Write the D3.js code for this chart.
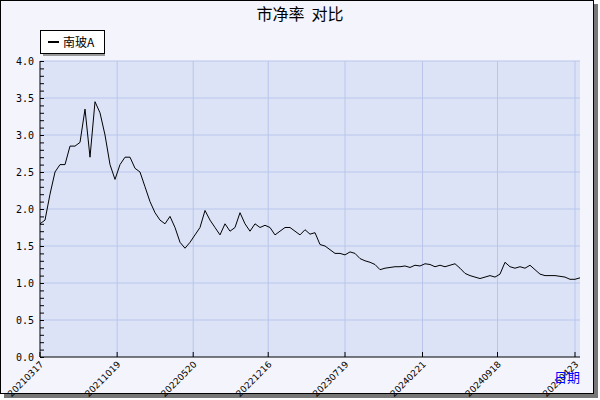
<!DOCTYPE html><html><head><meta charset="utf-8"><script src="https://cdn.jsdelivr.net/npm/d3@7/dist/d3.min.js"></script>
<style>body{margin:0;background:#fff}</style></head><body><svg id="c" width="600" height="400"></svg><script>
const startDate="2021-03-17", stepDays=14;
const values=[1.8,1.85,2.2,2.5,2.6,2.6,2.85,2.85,2.9,3.35,2.7,3.45,3.3,3.0,2.6,2.4,2.6,2.7,2.7,2.55,2.5,2.3,2.1,1.95,1.85,1.8,1.9,1.75,1.55,1.47,1.55,1.65,1.75,1.98,1.85,1.75,1.65,1.8,1.7,1.75,1.95,1.8,1.7,1.8,1.75,1.78,1.75,1.65,1.7,1.75,1.75,1.7,1.65,1.72,1.66,1.68,1.52,1.5,1.45,1.4,1.4,1.38,1.42,1.4,1.33,1.3,1.28,1.25,1.18,1.2,1.21,1.22,1.22,1.23,1.21,1.24,1.23,1.26,1.25,1.22,1.24,1.22,1.24,1.26,1.2,1.13,1.1,1.08,1.06,1.08,1.1,1.08,1.12,1.28,1.22,1.2,1.22,1.2,1.24,1.18,1.12,1.1,1.1,1.1,1.09,1.08,1.05,1.05,1.07];
const tickLabels=["20210317","20211019","20220520","20221216","20230719","20240221","20240918","20250423"];
const yTicks=[0,0.5,1,1.5,2,2.5,3,3.5,4];
const seriesName="南玻A", title="市净率  对比", xName="日期";
const parse=d3.timeParse("%Y%m%d");
const t0=d3.timeParse("%Y-%m-%d")(startDate);
const data=values.map((v,i)=>({d:d3.timeDay.offset(t0,i*stepDays),v}));
const svg=d3.select("#c");
const L=40,R=580,T=61,B=357;
svg.append("rect").attr("x",4).attr("y",4).attr("width",594).attr("height",394).attr("fill","#777");
svg.append("rect").attr("x",0.5).attr("y",0.5).attr("width",593).attr("height",393).attr("fill","#f3f4fc").attr("stroke","#000");
const x=d3.scaleTime().domain([data[0].d,data[data.length-1].d]).range([L,R]);
const y=d3.scaleLinear().domain([0,4]).range([B,T]);
svg.append("rect").attr("x",L).attr("y",T).attr("width",R-L).attr("height",B-T).attr("fill","#dce3f7");
const xt=tickLabels.map(parse);
svg.append("g").selectAll("line").data(xt.slice(1)).join("line").attr("x1",d=>x(d)).attr("x2",d=>x(d)).attr("y1",T).attr("y2",B).attr("stroke","#b9c6ea");
svg.append("g").selectAll("line").data(yTicks.slice(1)).join("line").attr("x1",L).attr("x2",R).attr("y1",d=>y(d)).attr("y2",d=>y(d)).attr("stroke","#b9c6ea");
svg.append("path").datum(data).attr("fill","none").attr("stroke","#000").attr("stroke-width",1)
 .attr("d",d3.line().x(d=>x(d.d)).y(d=>y(d.v)));
const ya=svg.append("g").attr("transform",`translate(${L},0)`).call(d3.axisRight(y).tickValues(d3.range(0,41).map(i=>i/10)).tickSize(4).tickFormat(""));
ya.select(".domain").remove();
svg.append("line").attr("x1",L).attr("x2",L).attr("y1",T).attr("y2",B).attr("stroke","#000");
svg.append("line").attr("x1",L).attr("x2",R).attr("y1",B).attr("y2",B).attr("stroke","#000");
svg.append("g").selectAll("text").data(yTicks).join("text").attr("x",L-6).attr("y",d=>y(d)+4).attr("text-anchor","end")
 .attr("font-family","DejaVu Sans Mono").attr("font-size",10).text(d=>d.toFixed(1));
svg.append("g").selectAll("line").data(xt).join("line").attr("x1",d=>x(d)).attr("x2",d=>x(d)).attr("y1",B).attr("y2",B-5).attr("stroke","#000");
svg.append("g").selectAll("text").data(xt).join("text").attr("text-anchor","end").attr("font-family","DejaVu Sans").attr("font-size",9)
 .attr("transform",d=>`translate(${x(d)+4},${B+8}) rotate(-45)`).text((d,i)=>tickLabels[i]);
svg.append("text").attr("x",300).attr("y",20).attr("text-anchor","middle").attr("font-family","Noto Sans CJK SC").attr("font-size",16).style("white-space","pre").text(title);
svg.append("rect").attr("x",43).attr("y",34).attr("width",62).attr("height",22).attr("fill","#999");
svg.append("rect").attr("x",40.5).attr("y",30.5).attr("width",64).attr("height",23).attr("fill","#fff").attr("stroke","#000");
svg.append("line").attr("x1",48).attr("x2",59).attr("y1",42).attr("y2",42).attr("stroke","#000").attr("stroke-width",2);
svg.append("text").attr("x",63).attr("y",47).attr("font-family","Noto Sans CJK SC").attr("font-size",12).text(seriesName);
svg.append("text").attr("x",580).attr("y",382).attr("text-anchor","end").attr("fill","#00f").attr("font-family","Noto Sans CJK SC").attr("font-size",13).text(xName);
</script></body></html>
